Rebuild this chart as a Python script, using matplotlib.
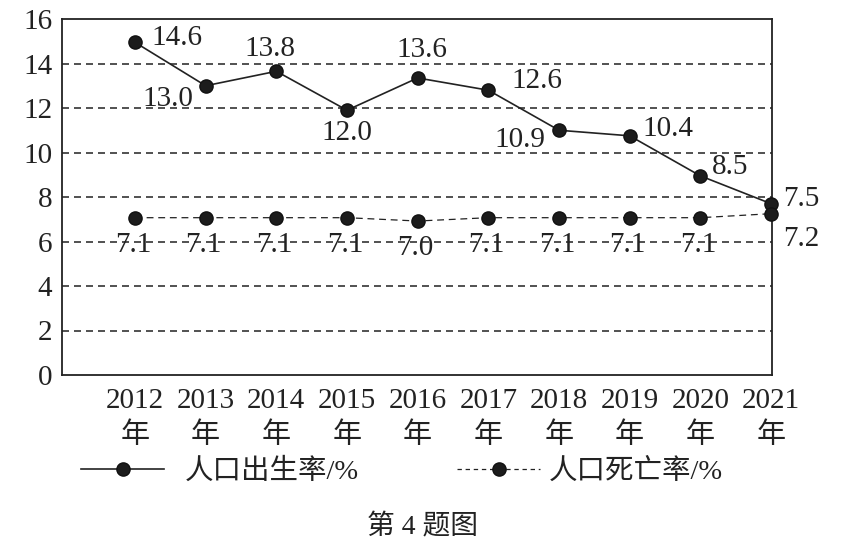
import matplotlib
matplotlib.use('Agg')
import matplotlib.pyplot as plt
from matplotlib.lines import Line2D

# data
years = ['2012', '2013', '2014', '2015', '2016', '2017', '2018', '2019', '2020', '2021']
birthRate = [14.95, 13.0, 13.65, 11.9, 13.35, 12.8, 11.0, 10.75, 8.95, 7.7]
birthLabels = ['14.6', '13.0', '13.8', '12.0', '13.6', '12.6', '10.9', '10.4', '8.5', '7.5']
deathRate = [7.07, 7.07, 7.07, 7.07, 6.92, 7.07, 7.07, 7.07, 7.07, 7.25]
deathLabels = ['7.1', '7.1', '7.1', '7.1', '7.0', '7.1', '7.1', '7.1', '7.1', '7.2']
yTicks = [0, 2, 4, 6, 8, 10, 12, 14, 16]
legendNames = ['人口出生率/%', '人口死亡率/%']

# label offsets in pixels (dx, dy up)
birthOffsets = [(42, 4), (-38, -13), (-6, 22), (0, -23), (4, 28),
                (49, 9), (-39, -10), (38, 7), (30, 9), (30, 5)]
deathOffsets = [(-2, -27)] * 9 + [(30, -25)]

plt.rcParams['font.family'] = ['Liberation Serif', 'Noto Sans CJK SC']
ink = '#222222'
fs = 21

fig = plt.figure(figsize=(8.43, 5.5), dpi=100)
ax = fig.add_axes([62 / 843, 175 / 550, 710 / 843, 356 / 550])

xs = list(range(len(years)))
ax.plot(xs, birthRate, color=ink, lw=1.2, marker='o', ms=9.5,
        mfc='#1c1c1c', mec='#111111', clip_on=False, zorder=4)
ax.plot(xs, deathRate, color=ink, lw=0.9, linestyle=(0, (5.5, 3.8)),
        marker='o', ms=9.5, mfc='#1c1c1c', mec='#111111', clip_on=False, zorder=4)

for x, y, lab, off in zip(xs, birthRate, birthLabels, birthOffsets):
  ax.annotate(lab, (x, y), xytext=off, textcoords='offset pixels',
              ha='center', va='center', fontsize=fs, color=ink)
for x, y, lab, off in zip(xs, deathRate, deathLabels, deathOffsets):
  ax.annotate(lab, (x, y), xytext=off, textcoords='offset pixels',
              ha='center', va='center', fontsize=fs, color=ink)

for t in yTicks[1:-1]:
  ax.axhline(t, color='#333333', lw=1.2, linestyle=(0, (4.2, 3.0)), zorder=1)

ax.set_xlim(-1.033, 9.014)
ax.set_ylim(0, 16)
ax.set_yticks(yTicks)
ax.set_xticks(xs)
ax.set_xticklabels([y + '\n年' for y in years], linespacing=1.45)
ax.tick_params(axis='both', length=0, labelsize=fs, colors=ink)
ax.tick_params(axis='y', pad=7)
ax.tick_params(axis='x', pad=9)
for s in ax.spines.values():
  s.set_linewidth(1.3)
  s.set_color(ink)

solid = Line2D([], [], color=ink, lw=1.2, marker='o', ms=9.5, mfc='#1c1c1c', mec='#111111')
dashed = Line2D([], [], color=ink, lw=0.9, linestyle=(0, (3.5, 3.0)), marker='o', ms=9.5,
                mfc='#1c1c1c', mec='#111111')
fig.legend([solid], [legendNames[0]], loc='center left',
           bbox_to_anchor=(67 / 843, 1 - 472 / 550), frameon=False,
           fontsize=20.5, handlelength=2.9, handletextpad=0.75,
           borderpad=0, labelcolor=ink)
fig.legend([dashed], [legendNames[1]], loc='center left',
           bbox_to_anchor=(443 / 843, 1 - 472 / 550), frameon=False,
           fontsize=20.5, handlelength=2.9, handletextpad=0.3,
           borderpad=0, labelcolor=ink)

fig.text(422 / 843, 1 - 527 / 550, '第 4 题图', ha='center', va='center',
         fontsize=20, color=ink)

fig.savefig('out.png', dpi=100)
